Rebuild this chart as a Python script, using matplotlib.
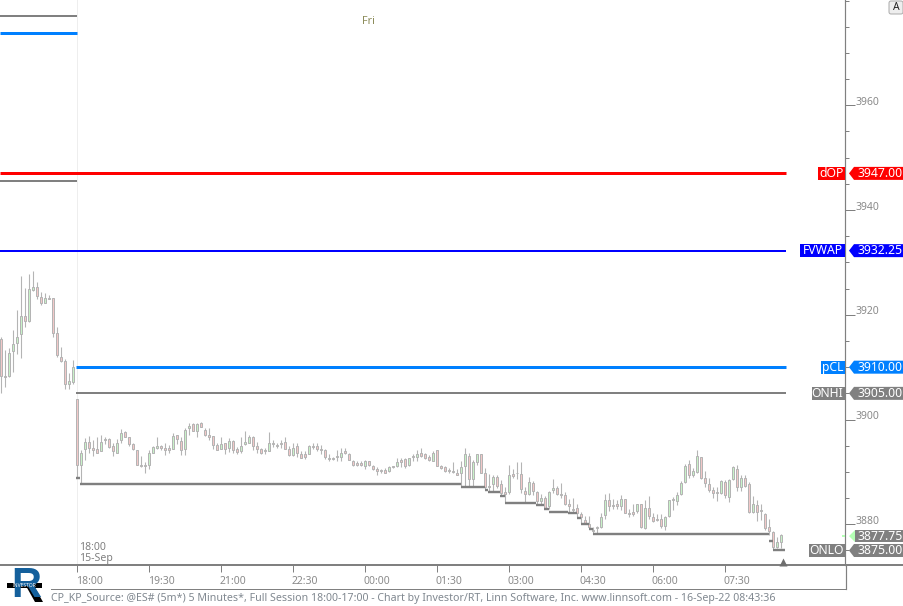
import matplotlib
matplotlib.use("Agg")
import matplotlib.pyplot as plt
from matplotlib.patches import Polygon, Rectangle, FancyBboxPatch
from matplotlib.lines import Line2D
from matplotlib.transforms import IdentityTransform

W, H = 904, 606
plt.rcParams['font.family'] = ['Noto Sans', 'DejaVu Sans']

first_bar = -19
highs = [3915.7,3913.3,3913.6,3917.1,3921.0,3927.4,3925.2,3927.8,3928.4,3926.2,3924.4,3924.2,3923.8,3923.3,3917.6,3913.8,3911.5,3908.8,3911.4,
3904.0,3894.2,3896.4,3896.9,3896.0,3896.6,3897.0,3896.7,3896.5,3895.5,3896.3,3898.2,3897.9,3896.7,3895.5,3894.1,3893.0,3891.9,3894.2,3894.9,
3896.6,3895.1,3895.5,3895.1,3897.4,3897.0,3896.7,3898.3,3899.3,3899.3,3899.3,3899.5,3898.3,3898.4,3896.9,3895.5,3896.7,3895.6,3896.4,3896.1,
3894.7,3896.6,3897.8,3897.0,3896.9,3895.8,
3894.6,3894.5,3897.6,3896.1,3895.6,3896.0,3896.6,3894.9,3895.6,3895.5,3893.9,3893.9,3895.1,3895.5,3895.5,3895.2,3894.4,3893.4,3892.9,3894.2,
3894.5,3894.5,3893.7,3892.3,3892.1,3892.1,3892.3,3892.1,3891.3,3890.9,3890.6,3890.7,3891.2,3891.2,3892.6,3892.6,3892.7,3892.7,3893.4,3894.2,
3894.5,3893.7,3893.2,3893.9,3894.2,3891.3,3891.1,3890.8,3891.8,3890.6,3892.1,3894.5,3893.7,3892.3,3893.5,3893.5,3890.8,3889.6,3889.4,3889.4,
3888.5,3887.1,3891.3,3890.5,3891.8,
3891.8,3887.2,3889.0,3888.3,3886.4,3885.7,3885.4,3886.4,3888.6,3887.4,3887.8,3886.1,3884.8,3885.1,3883.9,3882.4,3881.6,3881.6,3879.5,3879.7,
3882.1,3885.8,3886.0,3884.8,3884.6,3885.5,3884.8,3883.0,3883.9,3883.8,3883.8,3884.6,3885.4,3882.1,3882.0,3882.0,3881.6,3884.6,3885.3,3886.1,
3888.3,3891.6,3892.3,3890.8,3894.2,3892.9,3890.2,3888.8,3887.2,3887.2,3888.5,3888.5,3888.6,3891.1,3891.3,3889.4,3889.5,3888.1,3885.4,3884.6,
3883.9,3882.1,3881.1,3878.7,3877.5,3878.1]
lows = [3905.1,3906.3,3908.1,3909.1,3912.6,3911.8,3917.7,3918.7,3924.6,3923.0,3921.9,3922.2,3923.0,3915.8,3911.9,3910.9,3905.8,3905.9,3906.8,
3888.8,3887.8,3892.3,3893.6,3893.1,3893.7,3893.9,3895.3,3894.6,3893.1,3893.7,3895.6,3896.6,3894.9,3894.2,3891.3,3891.0,3889.7,3890.6,3893.6,
3894.4,3894.2,3893.2,3893.7,3894.4,3895.3,3893.2,3893.2,3897.1,3897.8,3896.7,3898.5,3896.9,3896.1,3894.4,3894.2,3894.3,3893.4,3893.8,3893.7,
3893.5,3893.7,3895.1,3895.5,3894.2,3893.7,
3893.4,3893.4,3893.9,3894.7,3894.6,3894.6,3894.4,3893.1,3893.0,3892.9,3892.7,3892.4,3893.5,3894.3,3894.0,3893.4,3892.4,3892.0,3892.3,3892.1,
3892.1,3893.4,3892.3,3891.2,3891.2,3891.2,3890.6,3891.2,3890.4,3889.5,3889.8,3889.7,3890.0,3890.7,3891.0,3890.9,3890.7,3891.1,3892.1,3892.1,
3892.9,3892.4,3892.0,3892.0,3891.1,3890.5,3890.0,3889.8,3889.8,3889.4,3887.2,3887.2,3887.2,3887.2,3891.3,3889.8,3886.6,3886.4,3886.4,3887.0,
3885.4,3884.1,3885.7,3888.8,3888.6,
3885.9,3884.3,3885.6,3885.5,3883.9,3883.9,3883.0,3882.9,3885.9,3885.6,3885.0,3883.7,3882.4,3882.3,3881.3,3880.2,3880.0,3879.2,3878.1,3878.3,
3879.2,3881.1,3882.6,3882.9,3883.0,3882.7,3882.1,3881.3,3881.5,3882.1,3879.2,3879.1,3881.1,3880.4,3880.7,3879.2,3879.0,3881.3,3882.7,3883.7,
3885.6,3887.9,3888.8,3889.1,3889.7,3888.6,3887.1,3886.2,3885.0,3884.5,3885.7,3885.0,3884.3,3888.5,3886.4,3886.4,3887.2,3882.1,3882.1,3880.7,
3880.8,3879.0,3878.0,3875.2,3875.4,3875.4]
opens = [3915.3,3908.3,3908.4,3913.0,3914.6,3916.3,3919.8,3918.9,3924.7,3925.4,3923.4,3922.3,3923.3,3923.3,3916.5,3912.0,3911.1,3906.7,3907.2,
3904.0,3891.3,3894.3,3895.8,3894.5,3894.3,3893.9,3896.0,3896.2,3894.9,3893.7,3896.0,3897.6,3896.6,3895.3,3894.1,3891.3,3891.3,3891.3,3893.7,
3894.6,3894.9,3894.6,3894.6,3894.4,3897.0,3895.9,3894.4,3898.3,3899.1,3897.9,3899.3,3898.1,3897.0,3896.8,3895.1,3894.4,3895.5,3894.6,3895.9,
3894.3,3893.9,3895.3,3895.6,3896.7,3894.9,
3894.3,3894.1,3893.9,3895.5,3895.2,3895.5,3895.8,3894.3,3893.2,3894.9,3893.5,3893.4,3893.5,3895.0,3895.0,3894.4,3894.1,3892.6,3892.6,3892.9,
3892.9,3893.9,3893.5,3892.1,3891.7,3891.7,3891.2,3892.0,3891.2,3890.5,3890.4,3890.3,3890.2,3891.1,3891.1,3892.3,3892.5,3891.3,3893.0,3892.8,
3893.6,3893.4,3892.8,3892.1,3894.1,3891.1,3890.9,3890.4,3890.2,3889.7,3889.7,3891.1,3893.0,3888.6,3891.8,3893.4,3889.7,3887.3,3887.7,3889.0,
3887.7,3886.1,3886.2,3889.6,3889.8,
3889.6,3886.4,3885.7,3887.9,3886.1,3884.5,3885.1,3883.4,3886.5,3887.0,3885.8,3885.5,3883.9,3883.0,3883.2,3882.0,3880.8,3880.1,3879.0,3879.2,
3879.4,3881.7,3884.6,3883.7,3883.8,3883.4,3884.8,3882.2,3882.3,3882.6,3883.8,3879.2,3883.2,3881.3,3880.9,3881.1,3879.7,3881.5,3884.7,3884.5,
3885.7,3888.0,3891.6,3889.5,3889.9,3892.8,3888.8,3887.6,3886.5,3886.2,3885.9,3888.0,3885.3,3888.6,3890.5,3887.2,3888.8,3887.6,3882.4,3883.7,
3882.7,3882.0,3879.5,3878.6,3875.7,3876.7]
closes = [3908.4,3908.1,3912.8,3914.4,3915.7,3919.8,3918.9,3925.0,3925.4,3923.5,3922.3,3923.3,3923.1,3916.5,3912.3,3911.2,3906.7,3907.3,3910.0,
3891.3,3893.7,3895.8,3894.6,3894.2,3893.7,3895.8,3896.3,3894.7,3893.9,3895.5,3897.4,3896.7,3895.3,3894.4,3891.3,3891.1,3891.2,3893.6,3894.8,
3894.9,3894.6,3894.2,3894.2,3896.8,3896.2,3894.2,3898.1,3898.7,3897.9,3899.1,3898.5,3897.1,3896.7,3895.2,3894.2,3895.3,3894.4,3895.9,3894.2,
3893.8,3894.9,3895.8,3896.6,3895.0,3894.4,
3893.7,3893.9,3895.5,3895.3,3895.0,3895.3,3894.4,3893.2,3894.5,3893.7,3892.7,3892.8,3895.0,3894.8,3894.4,3894.2,3892.9,3892.4,3892.4,3892.8,
3893.7,3893.7,3892.3,3891.3,3891.4,3891.4,3892.1,3891.3,3890.5,3890.2,3890.2,3889.8,3891.0,3890.9,3891.8,3891.9,3891.2,3892.6,3892.8,3893.5,
3893.0,3892.7,3892.3,3893.7,3891.2,3890.7,3890.2,3890.2,3890.0,3889.5,3891.0,3893.4,3888.6,3891.8,3893.4,3889.8,3887.2,3887.1,3889.0,3887.3,
3885.9,3885.8,3889.5,3889.2,3889.7,
3886.7,3885.8,3888.0,3886.4,3884.5,3885.1,3883.2,3886.1,3887.0,3885.8,3885.5,3883.8,3883.4,3882.8,3882.1,3881.3,3880.2,3879.4,3878.8,3879.5,
3881.3,3884.6,3883.4,3883.4,3883.4,3884.8,3882.2,3882.0,3882.0,3883.8,3879.4,3883.2,3881.5,3880.7,3880.8,3879.7,3881.3,3884.6,3884.6,3885.6,
3887.8,3891.1,3889.5,3890.2,3893.0,3888.8,3887.9,3886.6,3885.9,3885.9,3888.3,3885.5,3888.5,3890.9,3887.2,3888.8,3887.4,3882.4,3883.9,3882.4,
3882.5,3879.3,3878.8,3875.7,3876.7,3877.9]

step_levels = [3888.85,3887.7,3887.2,3886.6,3886.2,3885.4,3884.05,3883.75,3883.0,3882.4,3882.2,3881.25,3880.1,3879.15,3878.2,3876.8,3875.0]
step_edges = [-0.3,0.7,95.9,102,102.85,105.85,107,114.75,116.7,118,122.75,125,125.9,128,129,173,174,176.9]

tick_bars = [0,18,36,54,72,90,108,126,144,162]
tick_times = ['18:00','19:30','21:00','22:30','00:00','01:30','03:00','04:30','06:00','07:30']
major_prices = [3880,3900,3920,3940,3960]
minor_prices = [3875,3885,3890,3895,3905,3910,3915,3925,3930,3935,3945,3950,3955,3965,3970,3975,3980]

level_lines = [('dOP',3947.00,'#ff0000',3),('FVWAP',3932.25,'#0000ff',2),('pCL',3910.00,'#0080ff',3),('ONHI',3905.00,'#808080',2)]
old_levels = [(3977.0,'#808080',2),(3973.75,'#0080ff',3),(3945.5,'#808080',2)]
tags = [('dOP','3947.00','#ff0000'),('FVWAP','3932.25','#0000ff'),('pCL','3910.00','#0080ff'),('ONHI','3905.00','#808080'),('ONLO','3875.00','#808080')]
last_price = 3877.75

GREY='#808080'; WICK='#b4b4b4'; UP='#c8f2c8'; DOWN='#f2c8c8'; LABEL='#8a8a8a'

def lw(px): return px*72/100

fig = plt.figure(figsize=(W/100,H/100),dpi=100,facecolor='white')
ax = fig.add_axes([0,1-565/H,845.5/W,565/H])
ax.set_facecolor('white')
ax.set_xlim((0-77)/4,(845.5-77)/4)
ax.set_ylim(3960-(565-105.3)/5.2375,3960+105.3/5.2375)
for s in ['top','left']:
    ax.spines[s].set_visible(False)
ax.spines['right'].set_color(GREY); ax.spines['right'].set_linewidth(lw(1.2))
ax.spines['bottom'].set_color(GREY); ax.spines['bottom'].set_linewidth(lw(2))

ax.yaxis.tick_right()
ax.set_yticks(major_prices,[''] * len(major_prices))
ax.set_yticks(minor_prices,minor=True)
ax.tick_params(axis='y',which='major',length=lw(10),width=lw(1),color=GREY)
ax.tick_params(axis='y',which='minor',length=lw(3.5),width=lw(1),color=GREY)
for p in major_prices:
    ax.annotate(str(p),xy=(1,p),xycoords=('axes fraction','data'),xytext=(10.5,3),textcoords='offset pixels',
                ha='left',va='center',fontsize=7.5,color=LABEL,annotation_clip=False)
ax.set_xticks(tick_bars,['']*len(tick_bars))
ax.tick_params(axis='x',length=lw(6.5),width=lw(1),color=GREY)
for b,s in zip(tick_bars,tick_times):
    ax.annotate(s,xy=(b,0),xycoords=('data','axes fraction'),xytext=(-1,-17),textcoords='offset pixels',
                ha='left',va='center',fontsize=7.5,color=LABEL,annotation_clip=False)

ax.axvline(-0.05,color='#eeeeee',lw=lw(1),zorder=0)

n=len(highs)
idx=[first_bar+i for i in range(n)]
ax.vlines(idx,lows,highs,color=WICK,lw=lw(1.1),zorder=2)
for i,o,c in zip(idx,opens,closes):
    bot=min(o,c); h=abs(o-c)
    ax.add_patch(Rectangle((i-0.28,bot),0.56,max(h,0.15),facecolor=UP if c>=o else DOWN,edgecolor=WICK,lw=lw(1),zorder=3))

x0=ax.get_xlim()[0]
for name,p,c,w in level_lines:
    ax.hlines(p,x0 if name in ('dOP','FVWAP') else -0.25,177.2,color=c,lw=lw(w),zorder=4)
for p,c,w in old_levels:
    ax.hlines(p,x0,-0.1,color=c,lw=lw(w),zorder=4)
for lev,a,b in zip(step_levels,step_edges[:-1],step_edges[1:]):
    ax.hlines(lev,a,b,color='#7f7f7f',lw=lw(2.4),zorder=4)

ax.plot([176.5],[ax.get_ylim()[0]+0.65],marker='^',ms=6,color='#6e6e6e',mec='none',clip_on=False,zorder=5)

def ypx(price):
    return H-ax.transData.transform((0,price))[1]

def box(x0,x1,yc,color,h=13):
    fig.add_artist(Rectangle((x0,H-yc-h/2),x1-x0,h,facecolor=color,edgecolor='none',transform=IdentityTransform()))

def txt(x,y,s,**kw):
    kw.setdefault('fontsize',8.8)
    kw.setdefault('va','center')
    fig.text(x/W,1-y/H,s,**kw)

fig.canvas.draw()
for name,val,c in tags:
    yc=ypx(float(val))
    tw={'dOP':27,'FVWAP':45,'pCL':24,'ONHI':33,'ONLO':36}[name]
    box(845-tw,845,yc,c)
    txt(843.5,yc,name,color='white',ha='right')
    fig.add_artist(Polygon([(849,H-yc),(854,H-yc-6.5),(904,H-yc-6.5),(904,H-yc+6.5),(854,H-yc+6.5)],closed=True,facecolor=c,edgecolor='none',transform=IdentityTransform()))
    txt(903,yc,val,color='white',ha='right')

yc=ypx(last_price)
fig.add_artist(Polygon([(849,H-yc),(855,H-yc-6),(855,H-yc+6)],closed=True,facecolor='#b4ffb4',edgecolor='none',transform=IdentityTransform()))
fig.add_artist(Rectangle((841.5,H-yc-1),3.5,2,facecolor='#b4ffb4',edgecolor='none',transform=IdentityTransform()))
box(855,904,yc,GREY,h=12)
txt(903,yc,f'{last_price:.2f}',color='white',ha='right')

fig.add_artist(Line2D([845.5,904],[H-565,H-565],color=GREY,lw=lw(2),transform=IdentityTransform()))
fig.add_artist(Line2D([845.5,845.5],[H-565,H-589],color=GREY,lw=lw(1.2),transform=IdentityTransform()))
fig.add_artist(Line2D([51,845.5],[H-589,H-589],color=GREY,lw=lw(1),transform=IdentityTransform()))

txt(368,21.5,'Fri',color='#8c8c5a',ha='center',fontsize=7.8)
txt(79,547.5,'18:00',color='#808080',ha='left',fontsize=7.6)
txt(79,558,'15-Sep',color='#808080',ha='left',fontsize=7.6)
txt(51,599,'CP_KP_Source: @ES# (5m*) 5 Minutes*, Full Session 18:00-17:00 - Chart by Investor/RT, Linn Software, Inc. www.linnsoft.com - 16-Sep-22 08:43:36',color='#808890',ha='left',fontsize=7.65)

fig.add_artist(FancyBboxPatch((890,H-13),12,11,boxstyle='round,pad=1,rounding_size=2',facecolor='#eeeeee',edgecolor='#aaaaaa',lw=0.7,transform=IdentityTransform()))
txt(896,7.5,'A',color='#222222',ha='center',fontsize=7.5,weight='bold')

# logo
fig.text(11/W,1-597/H,'R',color='#14609c',ha='left',va='baseline',fontsize=30,family='Liberation Sans',weight='bold')
fig.add_artist(Polygon([(26,H-586),(34,H-586),(43,H-602),(35,H-602)],closed=True,facecolor='black',edgecolor='none',transform=IdentityTransform()))
fig.add_artist(Rectangle((7,H-588),35,5,facecolor='black',edgecolor='none',transform=IdentityTransform()))
txt(24.5,585.5,'INVESTOR',color='white',ha='center',fontsize=3.6,weight='bold')

fig.savefig('out.png',dpi=100)
